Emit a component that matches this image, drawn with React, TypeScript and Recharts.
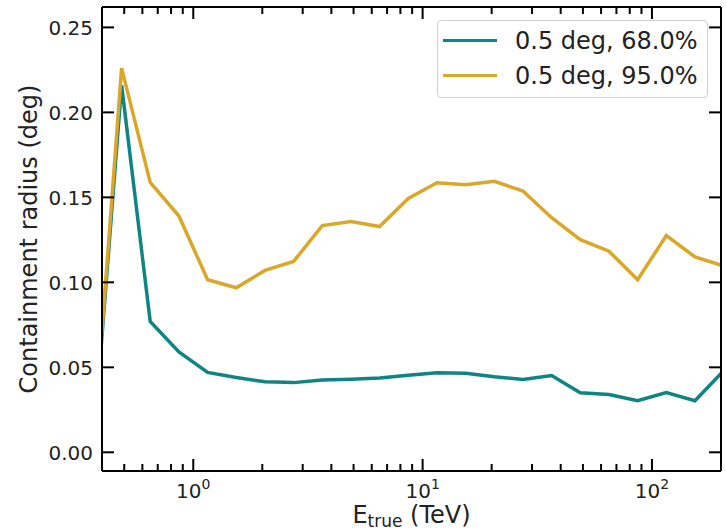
import { LineChart, Line, XAxis, YAxis, Legend } from "recharts";

// energy bin centres (TeV), 8 per decade
const energies = [
  0.365, 0.487, 0.649, 0.866, 1.155, 1.54, 2.054, 2.738, 3.652, 4.87, 6.494, 8.66,
  11.55, 15.4, 20.54, 27.38, 36.52, 48.7, 64.94, 86.6, 115.5, 154.0, 205.4,
];

// containment radius (deg)
const radius68 = [
  0.0, 0.216, 0.077, 0.059, 0.047, 0.044, 0.0415, 0.041, 0.0425, 0.043, 0.0437, 0.0453,
  0.0468, 0.0465, 0.0444, 0.0429, 0.0452, 0.035, 0.034, 0.0303, 0.0352, 0.0303, 0.048,
];
const radius95 = [
  0.0, 0.226, 0.1588, 0.139, 0.1015, 0.0968, 0.107, 0.1123, 0.1334, 0.1358, 0.1328, 0.1494,
  0.1586, 0.1574, 0.1594, 0.1537, 0.138, 0.1251, 0.1183, 0.1015, 0.1275, 0.1149, 0.1096,
];

const seriesNames = ["0.5 deg, 68.0%", "0.5 deg, 95.0%"];

const xMajorTicks = [1, 10, 100];
const xTicks = [
  0.5, 0.6, 0.7, 0.8, 0.9, 1, 2, 3, 4, 5, 6, 7, 8, 9, 10,
  20, 30, 40, 50, 60, 70, 80, 90, 100,
];
const yTicks = [0, 0.05, 0.1, 0.15, 0.2, 0.25];

const X_DOMAIN: [number, number] = [0.4, 200];
const Y_DOMAIN: [number, number] = [-0.011, 0.262];

const TEAL = "#0e8582";
const GOLD = "#d9a72a";
const FONT = "DejaVu Sans, sans-serif";

const data = energies.map((e, i) => ({ e, r68: radius68[i], r95: radius95[i] }));

const BottomTick = (props: any) => {
  const { x, y, payload } = props;
  const major = xMajorTicks.includes(payload.value);
  const exp = Math.round(Math.log10(payload.value));
  return (
    <g>
      <line x1={x} y1={y} x2={x} y2={y - (major ? 12 : 7)} stroke="#000" strokeWidth={2} />
      {major && (
        <text x={x} y={y + 27} textAnchor="middle" fontSize={20} fontFamily={FONT} fill="#222">
          10
          <tspan dy={-9} fontSize={14}>{exp}</tspan>
        </text>
      )}
    </g>
  );
};

const TopTick = (props: any) => {
  const { x, y, payload } = props;
  const major = xMajorTicks.includes(payload.value);
  return <line x1={x} y1={y} x2={x} y2={y + (major ? 12 : 7)} stroke="#000" strokeWidth={2} />;
};

const LeftTick = (props: any) => {
  const { x, y, payload } = props;
  return (
    <g>
      <line x1={x} y1={y} x2={x + 12} y2={y} stroke="#000" strokeWidth={2} />
      <text x={x - 9} y={y} dy="0.36em" textAnchor="end" fontSize={20} fontFamily={FONT} fill="#222">
        {payload.value.toFixed(2)}
      </text>
    </g>
  );
};

const RightTick = (props: any) => {
  const { x, y } = props;
  return <line x1={x} y1={y} x2={x - 12} y2={y} stroke="#000" strokeWidth={2} />;
};

const XLabel = (props: any) => {
  const { viewBox } = props;
  const cx = viewBox.x + viewBox.width / 2;
  return (
    <text x={cx} y={523} textAnchor="middle" fontSize={24} fontFamily={FONT} fill="#222">
      E
      <tspan dy={4} fontSize={17}>true</tspan>
      <tspan dy={-4}> (TeV)</tspan>
    </text>
  );
};

const YLabel = (props: any) => {
  const { viewBox } = props;
  const cy = viewBox.y + viewBox.height / 2;
  return (
    <text
      x={37}
      y={cy}
      transform={`rotate(-90, 37, ${cy})`}
      textAnchor="middle"
      fontSize={24}
      fontFamily={FONT}
      fill="#222"
    >
      Containment radius (deg)
    </text>
  );
};

const LegendBox = (props: any) => {
  const { payload } = props;
  return (
    <div
      style={{
        width: 271,
        height: 78,
        boxSizing: "border-box",
        border: "1px solid #d0d0d0",
        borderRadius: 4,
        background: "rgba(255,255,255,0.85)",
        paddingTop: 2,
        fontFamily: FONT,
        fontSize: 24,
        color: "#222",
      }}
    >
      {(payload || []).map((entry: any) => (
        <div key={entry.value} style={{ display: "flex", alignItems: "center", height: 35 }}>
          <div style={{ width: 54, height: 3.5, marginLeft: 5, background: entry.color }} />
          <span style={{ marginLeft: 18, whiteSpace: "nowrap" }}>{entry.value}</span>
        </div>
      ))}
    </div>
  );
};

export default function App() {
  return (
    <div style={{ position: "absolute", left: 0, top: 0, background: "#fff" }}>
      <LineChart width={726} height={531} data={data} margin={{ top: 0, right: 0, bottom: 0, left: 0 }}>
        <XAxis
          dataKey="e"
          type="number"
          scale="log"
          domain={X_DOMAIN}
          allowDataOverflow
          ticks={xTicks}
          interval={0}
          height={60}
          tickSize={0}
          tickMargin={0}
          tickLine={false}
          axisLine={{ stroke: "#000", strokeWidth: 2 }}
          tick={<BottomTick />}
          label={<XLabel />}
        />
        <XAxis
          xAxisId="top"
          orientation="top"
          dataKey="e"
          type="number"
          scale="log"
          domain={X_DOMAIN}
          allowDataOverflow
          ticks={xTicks}
          interval={0}
          height={7}
          tickSize={0}
          tickMargin={0}
          tickLine={false}
          axisLine={{ stroke: "#000", strokeWidth: 2 }}
          tick={<TopTick />}
        />
        <YAxis
          type="number"
          domain={Y_DOMAIN}
          allowDataOverflow
          ticks={yTicks}
          interval={0}
          width={102}
          tickSize={0}
          tickMargin={0}
          tickLine={false}
          axisLine={{ stroke: "#000", strokeWidth: 2 }}
          tick={<LeftTick />}
          label={<YLabel />}
        />
        <YAxis
          yAxisId="right"
          orientation="right"
          type="number"
          domain={Y_DOMAIN}
          allowDataOverflow
          ticks={yTicks}
          interval={0}
          width={5}
          tickSize={0}
          tickMargin={0}
          tickLine={false}
          axisLine={{ stroke: "#000", strokeWidth: 2 }}
          tick={<RightTick />}
        />
        <Legend
          layout="vertical"
          align="center"
          verticalAlign="middle"
          wrapperStyle={{ top: 20, left: 437, width: 271, height: 78 }}
          content={<LegendBox />}
        />
        <Line
          name={seriesNames[0]}
          dataKey="r68"
          stroke={TEAL}
          strokeWidth={3.5}
          dot={false}
          isAnimationActive={false}
        />
        <Line
          name={seriesNames[1]}
          dataKey="r95"
          stroke={GOLD}
          strokeWidth={3.5}
          dot={false}
          isAnimationActive={false}
        />
      </LineChart>
    </div>
  );
}
